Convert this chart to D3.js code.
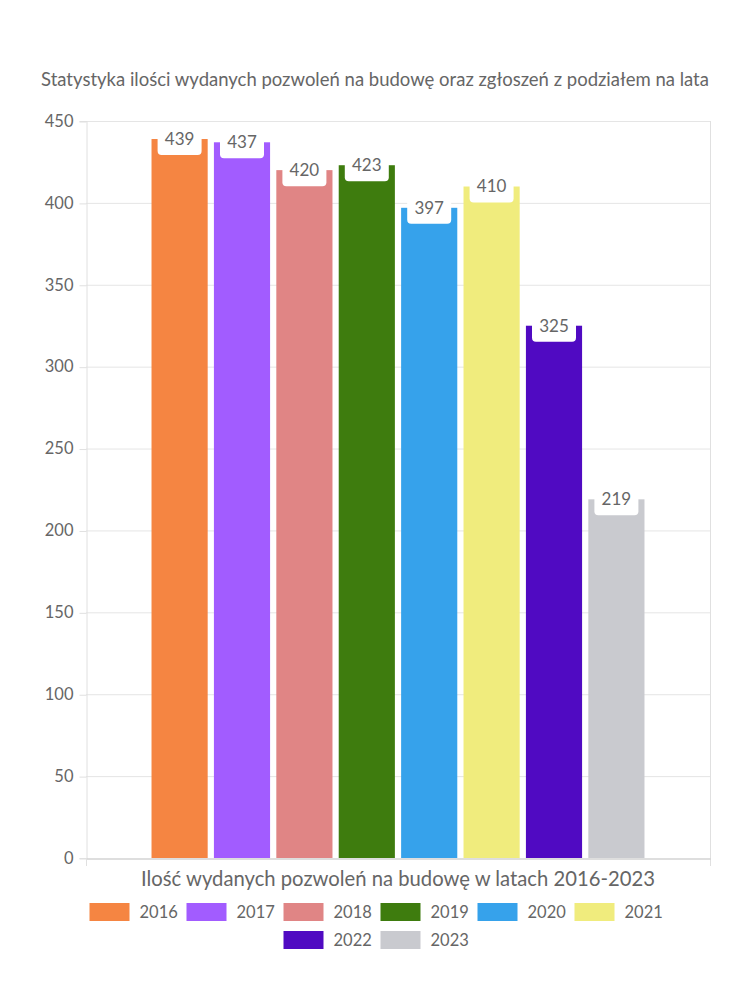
<!DOCTYPE html>
<html><head><meta charset="utf-8">
<script src="https://cdn.jsdelivr.net/npm/d3@7"></script>
<style>body{margin:0;background:#fff}svg{display:block}</style>
</head><body><svg id="c" width="750" height="1000"></svg>
<script>
const title = "Statystyka ilości wydanych pozwoleń na budowę oraz zgłoszeń z podziałem na lata";
const xTitle = "Ilość wydanych pozwoleń na budowę w latach 2016-2023";
const categories = ["Ilość wydanych pozwoleń"];
const years = ["2016","2017","2018","2019","2020","2021","2022","2023"];
const values = [439,437,420,423,397,410,325,219];
const colors = ["#f58542","#a25cff","#e08585","#3e7c0e","#36a2eb","#f0ec7d","#500ac2","#c9cacf"];
const yTicks = [0,50,100,150,200,250,300,350,400,450];

const FONT = "Lato, 'Noto Sans', sans-serif";
const TXT = "#666";
const svg = d3.select("#c");
const L=86, R=710, T=121, B=858;

const y = d3.scaleLinear().domain([0,450]).range([B,T]);
const x0 = d3.scaleBand().domain(categories).range([L,R]).paddingInner(0).paddingOuter(0);
const cw = R-L, gw = cw*0.8;
const x1 = d3.scaleBand().domain(years).range([L+(cw-gw)/2, L+(cw+gw)/2]).paddingInner(0.1).paddingOuter(0.05);

function fit(sel, target){
  const w = sel.node().getComputedTextLength();
  const fs = parseFloat(sel.attr("font-size"));
  sel.attr("font-size", fs*target/w);
}

const tt = svg.append("text").attr("x",375).attr("y",86).attr("text-anchor","middle")
  .attr("font-family",FONT).attr("font-size",16).attr("fill",TXT).text(title);
fit(tt, 668);

svg.append("g").selectAll("line").data(yTicks.filter(d=>d>0)).join("line")
  .attr("x1",L).attr("x2",R).attr("y1",d=>y(d)+0.5).attr("y2",d=>y(d)+0.5)
  .attr("stroke","#e5e5e5");
svg.append("line").attr("x1",R+0.5).attr("x2",R+0.5).attr("y1",T).attr("y2",B+8).attr("stroke","#e0e0e0");

const ya = svg.append("g").attr("transform",`translate(${L+0.5},0)`)
  .call(d3.axisLeft(y).tickValues(yTicks).tickSize(7).tickPadding(6));
ya.select(".domain").attr("stroke","#e0e0e0");
ya.selectAll(".tick line").attr("stroke","#e0e0e0").attr("transform","translate(0,0.5)");
ya.selectAll("text").attr("font-family",FONT).attr("font-size",16.5).attr("fill",TXT);

const xa = svg.append("g").attr("transform",`translate(0,${B+0.5})`)
  .call(d3.axisBottom(x0).tickSize(0).tickFormat(""));
xa.select(".domain").attr("stroke","#bdbdbd");
svg.append("line").attr("x1",L+0.5).attr("x2",L+0.5).attr("y1",B).attr("y2",B+8).attr("stroke","#e0e0e0");

const g = svg.append("g");
years.forEach((yr,i)=>{
  g.append("rect").attr("x",x1(yr)).attr("y",y(values[i])).attr("width",x1.bandwidth())
    .attr("height",y(0)-y(values[i])).attr("fill",colors[i]);
});
years.forEach((yr,i)=>{
  const cx = x1(yr)+x1.bandwidth()/2, cy = y(values[i]);
  g.append("rect").attr("x",cx-22).attr("y",cy-15).attr("width",44).attr("height",31)
    .attr("rx",4).attr("fill","#fff");
  g.append("text").attr("x",cx).attr("y",cy).attr("dy","0.35em").attr("text-anchor","middle")
    .attr("font-family",FONT).attr("font-size",17).attr("fill",TXT).text(values[i]);
});

const xt = svg.append("text").attr("x",398).attr("y",886).attr("text-anchor","middle")
  .attr("font-family",FONT).attr("font-size",17).attr("fill",TXT).text(xTitle);
fit(xt, 514);

const rows = [years.slice(0,6), years.slice(6)];
const rowY = [912, 940];
rows.forEach((row,ri)=>{
  const lg = svg.append("g");
  let xp = 0;
  row.forEach(yr=>{
    const i = years.indexOf(yr);
    const it = lg.append("g").attr("transform",`translate(${xp},0)`);
    it.append("rect").attr("x",0).attr("y",-9).attr("width",40).attr("height",18).attr("fill",colors[i]);
    const t = it.append("text").attr("x",50).attr("y",0).attr("dy","0.35em")
      .attr("font-family",FONT).attr("font-size",16.5).attr("fill",TXT).text(yr);
    xp += 50 + 36 + 11;
  });
  const tw = xp - 11;
  lg.attr("transform",`translate(${375 - tw/2},${rowY[ri]})`);
});
</script></body></html>
